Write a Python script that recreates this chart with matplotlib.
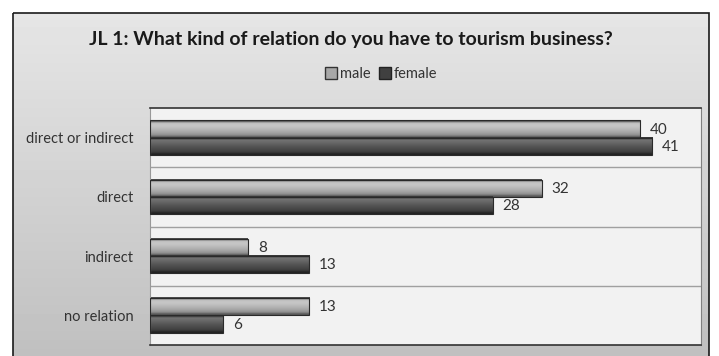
import numpy as np
import matplotlib.pyplot as plt
from matplotlib.patches import Patch, Rectangle

plt.rcParams['font.family'] = ['Lato', 'DejaVu Sans']

title = "JL 1: What kind of relation do you have to tourism business?"
categories = ["direct or indirect", "direct", "indirect", "no relation"]
male = [40, 32, 8, 13]
female = [41, 28, 13, 6]

fig = plt.figure(figsize=(7.19, 3.56), dpi=100)
fig.patch.set_facecolor('white')

# outer chart area with light gray gradient
bg = fig.add_axes([0, 0, 1, 1], zorder=0)
bg.axis('off')
grad = np.linspace(0.9, 0.75, 100).reshape(-1, 1)
bg.imshow(grad, cmap='gray', vmin=0, vmax=1, extent=[13, 709, 360, 13],
          aspect='auto', interpolation='bilinear')
bg.add_patch(Rectangle((13, 13), 696, 360, fill=False, edgecolor='#1a1a1a', lw=1.2))
bg.set_xlim(0, 719)
bg.set_ylim(356, 0)

fig.text(0.488, 1 - 40 / 356, title, ha='center', va='center',
         fontsize=14, fontweight='bold', color='#1a1a1a')

ax = fig.add_axes([150 / 719, 11 / 356, 551 / 719, 237 / 356], zorder=1)
ax.set_facecolor('#f2f2f2')

male_grad = np.array([0.3, 0.74, 0.78, 0.76, 0.72, 0.68, 0.63, 0.56, 0.35]).reshape(-1, 1)
female_grad = np.array([0.22, 0.45, 0.42, 0.38, 0.34, 0.31, 0.28, 0.24, 0.14]).reshape(-1, 1)

h = 0.29
for i, cat in enumerate(categories):
    for v, g, off in [(male[i], male_grad, -h), (female[i], female_grad, 0)]:
        y0 = i + off
        ax.imshow(g, cmap='gray', vmin=0, vmax=1, extent=[0, v, y0 + h, y0],
                  aspect='auto', interpolation='bilinear', zorder=2)
        ax.add_patch(Rectangle((0, y0), v, h, fill=False, edgecolor='#2a2a2a',
                               lw=0.8, zorder=3))
        ax.text(v + 0.8, y0 + h / 2 + 0.01, str(v), va='center', ha='left',
                fontsize=11, color='#333333', zorder=4)

for b in [0.5, 1.5, 2.5]:
    ax.axhline(b, color='#a0a0a0', lw=1, zorder=1)

ax.set_xlim(0, 45)
ax.set_ylim(3.5, -0.5)
ax.set_aspect('auto')
ax.set_xticks([])
ax.set_yticks(range(len(categories)))
ax.set_yticklabels(categories, fontsize=10.5, color='#333333')
ax.tick_params(axis='y', length=0, pad=12)
for s in ['top', 'bottom']:
    ax.spines[s].set_color('#333333')
    ax.spines[s].set_linewidth(1.2)
ax.spines['left'].set_color('#999999')
ax.spines['right'].set_color('#808080')

handles = [Patch(facecolor='#a8a8a8', edgecolor='#333333', label='male'),
           Patch(facecolor='#404040', edgecolor='#222222', label='female')]
fig.legend(handles=handles, loc='center', bbox_to_anchor=(0.53, 1 - 74 / 356),
           ncol=2, frameon=False, fontsize=10.5, handlelength=0.8, handleheight=0.8,
           handletextpad=0.2, columnspacing=0.6, labelcolor='#333333')

fig.savefig('out.png', dpi=100)
